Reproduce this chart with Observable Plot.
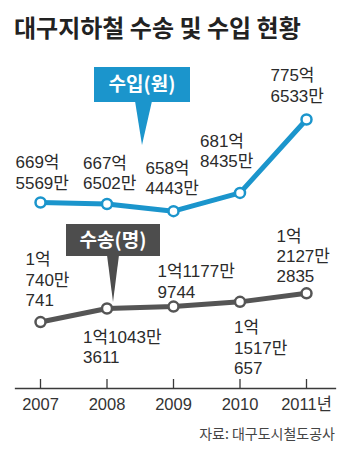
<!DOCTYPE html>
<html>
<head>
<meta charset="utf-8">
<script src="https://cdn.jsdelivr.net/npm/d3@7"></script>
<script src="https://cdn.jsdelivr.net/npm/@observablehq/plot@0.6"></script>
<style>
  html, body { margin: 0; padding: 0; background: #fff; }
  #wrap { position: relative; width: 350px; height: 453px; overflow: hidden; background: #fff; }
  #wrap > svg { position: absolute; left: 0; top: 0; }
</style>
</head>
<body>
<div id="wrap"></div>
<script>
// ---- data ----
const years = [2007, 2008, 2009, 2010, 2011];
const tickLabels = ["2007", "2008", "2009", "2010", "2011년"];
const revenue = [66955690000, 66765020000, 65844430000, 68184350000, 77565330000]; // 원
const revenueLabels = ["669억\n5569만", "667억\n6502만", "658억\n4443만", "681억\n8435만", "775억\n6533만"];
const passengers = [100740741, 110433611, 111779744, 115170657, 121272835]; // 명
const passengerLabels = ["1억\n740만\n741", "1억1043만\n3611", "1억1177만\n9744", "1억\n1517만\n657", "1억\n2127만\n2835"];

const title = "대구지하철 수송 및 수입 현황";
const revenueName = "수입(원)";
const passengerName = "수송(명)";
const source = "자료: 대구도시철도공사";

// ---- styles ----
const BLUE = "#1b95cc";
const GRAY = "#4d4d4d";
const LINE_GRAY = "#555555";
const TEXT = "#2b2b2b";
const NUM_FONT = "'Liberation Sans', Arial, 'Noto Sans CJK KR', sans-serif";
const KR_FONT = "'Noto Sans CJK KR', 'Noto Sans', sans-serif";

const revRows = years.map((year, i) => ({year, value: revenue[i], label: revenueLabels[i]}));
const pasRows = years.map((year, i) => ({year, value: passengers[i], label: passengerLabels[i]}));

const labelStyle = {fontSize: 17, lineHeight: 1.2, fill: TEXT, textAnchor: "start", fontFamily: NUM_FONT};

// label offsets relative to each point: [dx, dy, lineAnchor]
const revOffsets = [[-25, -14, "bottom"], [-24, -15, "bottom"], [-28, -17, "bottom"], [-40, -26, "bottom"], [-36, -18, "bottom"]];
const pasOffsets = [[-15, -16, "bottom"], [-24, 20, "top"], [-16, -9, "bottom"], [-6, 17, "top"], [-30, -11, "bottom"]];

const wrap = document.getElementById("wrap");

// ---- revenue plot ----
const p1 = Plot.plot({
  width: 350, height: 453, margin: 0,
  style: {background: "transparent", overflow: "visible"},
  x: {domain: [2007, 2011], range: [40, 306], axis: null},
  y: {domain: [600e8, 800e8], range: [256.4, 100], axis: null},
  marks: [
    Plot.line(revRows, {x: "year", y: "value", stroke: BLUE, strokeWidth: 5}),
    Plot.dot(revRows, {x: "year", y: "value", r: 5, fill: "white", stroke: BLUE, strokeWidth: 2.5}),
    ...revRows.map((d, i) => Plot.text([d], {
      x: "year", y: "value", text: "label",
      dx: revOffsets[i][0], dy: revOffsets[i][1], lineAnchor: revOffsets[i][2], ...labelStyle
    }))
  ]
});
wrap.appendChild(p1);

// ---- passenger plot with x axis ----
const p2 = Plot.plot({
  width: 350, height: 453,
  marginTop: 0, marginBottom: 65, marginLeft: 15, marginRight: 15,
  style: {background: "transparent", overflow: "visible"},
  x: {domain: [2007, 2011], range: [40, 306], axis: null},
  y: {domain: [90e6, 130e6], range: [336.6, 280.6], axis: null},
  marks: [
    Plot.frame({anchor: "bottom", stroke: "#3a3a3a", strokeWidth: 1.3}),
    Plot.tickX(years, {x: d => d, insetTop: 379, stroke: "#3a3a3a", strokeWidth: 1.3}),
    Plot.axisX(years, {
      anchor: "bottom", tickSize: 0, tickPadding: 10, label: null,
      tickFormat: d => tickLabels[years.indexOf(d)],
      fontSize: 16.5, fontFamily: NUM_FONT, fill: "#333"
    }),
    Plot.line(pasRows, {x: "year", y: "value", stroke: LINE_GRAY, strokeWidth: 5}),
    Plot.dot(pasRows, {x: "year", y: "value", r: 5, fill: "white", stroke: LINE_GRAY, strokeWidth: 2.5}),
    ...pasRows.map((d, i) => Plot.text([d], {
      x: "year", y: "value", text: "label",
      dx: pasOffsets[i][0], dy: pasOffsets[i][1], lineAnchor: pasOffsets[i][2], ...labelStyle
    }))
  ]
});
wrap.appendChild(p2);

// ---- annotations: title, series badges, source ----
const svg = d3.select(wrap).append("svg").attr("width", 350).attr("height", 453);

svg.append("text").attr("x", 14).attr("y", 37)
  .attr("font-family", KR_FONT).attr("font-weight", 700).attr("font-size", 24)
  .attr("fill", "#222").text(title);

function badge(x, y, w, h, color, tri, label) {
  const g = svg.append("g");
  g.append("rect").attr("x", x).attr("y", y).attr("width", w).attr("height", h).attr("fill", color);
  g.append("polygon").attr("points", tri.map(p => p.join(",")).join(" ")).attr("fill", color);
  g.append("text").attr("x", x + w / 2).attr("y", y + h / 2).attr("dy", "0.36em")
    .attr("text-anchor", "middle").attr("font-family", KR_FONT).attr("font-weight", 700)
    .attr("font-size", 19).attr("fill", "#fff").text(label);
}
badge(94, 67, 96, 35, BLUE, [[135, 101], [152, 101], [142, 145]], revenueName);
badge(66, 224, 94, 32, GRAY, [[107, 255], [119, 255], [113, 302]], passengerName);

svg.append("text").attr("x", 335).attr("y", 439).attr("text-anchor", "end")
  .attr("font-family", KR_FONT).attr("font-size", 14).attr("fill", "#444").text(source);
</script>
</body>
</html>
